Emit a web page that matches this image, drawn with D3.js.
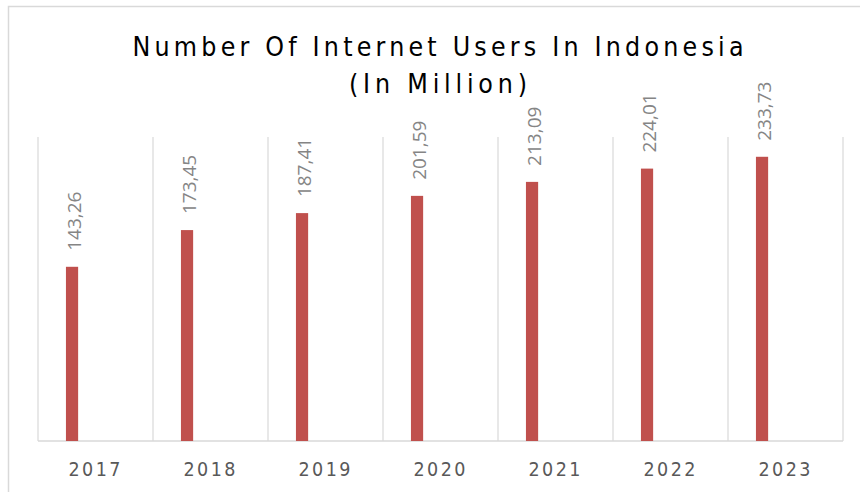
<!DOCTYPE html>
<html>
<head>
<meta charset="utf-8">
<script src="https://cdn.jsdelivr.net/npm/d3@7"></script>
<style>
  html, body { margin: 0; padding: 0; background: #fff; }
  svg { display: block; }
</style>
</head>
<body>
<svg id="chart"></svg>
<script>
const width = 860;
const height = 492;

// data
const years = ["2017", "2018", "2019", "2020", "2021", "2022", "2023"];
const users = [143.26, 173.45, 187.41, 201.59, 213.09, 224.01, 233.73];
const valueLabels = ["143,26", "173,45", "187,41", "201,59", "213,09", "224,01", "233,73"];
const titleLines = ["Number Of Internet Users In Indonesia", "(In Million)"];

const svg = d3.select("#chart").attr("width", width).attr("height", height);

const plot = { left: 38, right: 843, top: 137, bottom: 441 };
const narrow = "'Liberation Sans Narrow', 'DejaVu Sans Condensed', 'Liberation Sans', sans-serif";

// outer chart border
svg.append("rect")
  .attr("x", 8.5).attr("y", 6.5)
  .attr("width", width).attr("height", height)
  .attr("fill", "none")
  .attr("stroke", "#d9d9d9")
  .attr("stroke-width", 1.5);

const x = d3.scaleBand().domain(years).range([plot.left, plot.right]).padding(0);
const y = d3.scaleLinear().domain([0, 250]).range([plot.bottom, plot.top]);

// vertical gridlines between categories
const edges = years.map(d => x(d)).concat([plot.right]);
svg.append("g")
  .selectAll("line")
  .data(edges)
  .join("line")
  .attr("x1", d => d).attr("x2", d => d)
  .attr("y1", plot.top).attr("y2", plot.bottom)
  .attr("stroke", "#d9d9d9")
  .attr("stroke-width", 1.2);

// baseline
svg.append("line")
  .attr("x1", plot.left).attr("x2", plot.right)
  .attr("y1", plot.bottom).attr("y2", plot.bottom)
  .attr("stroke", "#d9d9d9")
  .attr("stroke-width", 1.5);

// bars (sit in the left part of each band)
const barOffset = x.bandwidth() * 0.243;
const barWidth = x.bandwidth() * 0.106;

svg.append("g")
  .selectAll("rect")
  .data(users)
  .join("rect")
  .attr("x", (d, i) => x(years[i]) + barOffset)
  .attr("y", d => y(d))
  .attr("width", barWidth)
  .attr("height", d => y(0) - y(d))
  .attr("fill", "#c0504d");

// value labels, rotated
svg.append("g")
  .selectAll("text")
  .data(users)
  .join("text")
  .attr("transform", (d, i) => {
    const cx = x(years[i]) + barOffset + barWidth / 2 + 1.5;
    return `translate(${cx},${y(d) - 16}) rotate(-90)`;
  })
  .attr("dominant-baseline", "central")
  .attr("font-family", "'Open Sans', 'DejaVu Sans', sans-serif")
  .attr("font-size", 19)
  .attr("fill", "#858585")
  .text((d, i) => valueLabels[i]);

// x axis labels
svg.append("g")
  .selectAll("text")
  .data(years)
  .join("text")
  .attr("x", d => x(d) + x.bandwidth() / 2 - 1)
  .attr("y", 476)
  .attr("text-anchor", "middle")
  .attr("font-family", narrow)
  .attr("font-size", 19.5)
  .attr("fill", "#595959")
  .attr("textLength", 52)
  .attr("lengthAdjust", "spacing")
  .text(d => d);

// title
const titleWidths = [611, 178];
svg.append("g")
  .selectAll("text")
  .data(titleLines)
  .join("text")
  .attr("x", 438)
  .attr("y", (d, i) => 56 + i * 37)
  .attr("text-anchor", "middle")
  .attr("font-family", narrow)
  .attr("font-size", 26.5)
  .attr("fill", "#000")
  .attr("textLength", (d, i) => titleWidths[i])
  .attr("lengthAdjust", "spacing")
  .text(d => d);
</script>
</body>
</html>
